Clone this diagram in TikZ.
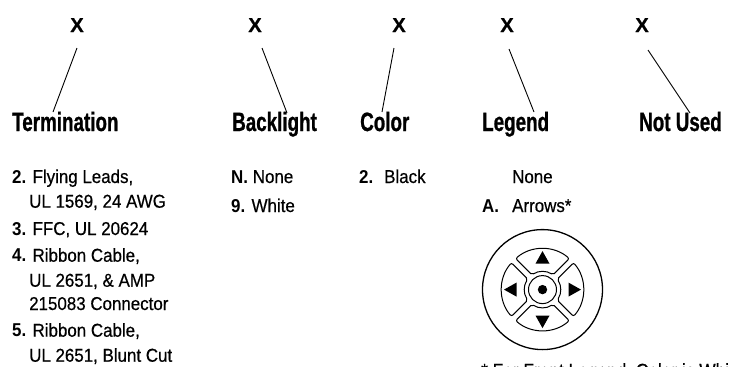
\documentclass[tikz,border=0pt]{standalone}
\usepackage{fontspec}
\setmainfont{Liberation Sans}[FakeStretch=0.91, UprightFeatures={FakeBold=0.5}]
\newfontfamily\hdrfont{Liberation Sans}[FakeStretch=0.71, BoldFeatures={FakeBold=0.8}]
\newfontfamily\markfont{Liberation Sans}[BoldFeatures={FakeBold=0.6}]
\begin{document}
\begin{tikzpicture}[x=1pt,y=1pt,
  bigx/.style={font=\markfont\bfseries\fontsize{20}{22}\selectfont, inner sep=0pt, anchor=base},
  hdr/.style={font=\hdrfont\bfseries\fontsize{26.5}{28}\selectfont, inner sep=0pt, anchor=base west},
  body/.style={font=\fontsize{18.6}{22}\selectfont, inner sep=0pt, anchor=base west},
  foot/.style={font=\fontsize{19}{21}\selectfont, inner sep=0pt, anchor=base west},
  lead/.style={line width=0.9pt},
  btn/.style={line width=1pt, rounded corners=2pt},
]
\useasboundingbox[fill=white] (0,0) rectangle (729,-367);

% X marks
\node[bigx] (x1) at (77,-32) {X};
\node[bigx] (x2) at (255,-32) {X};
\node[bigx] (x3) at (399,-32) {X};
\node[bigx] (x4) at (507,-32) {X};
\node[bigx] (x5) at (642,-32) {X};

% headers
\node[hdr] (h1) at (12,-131) {Termination};
\node[hdr] (h2) at (232,-131) {Backlight};
\node[hdr] (h3) at (360,-131) {Color};
\node[hdr] (h4) at (482,-131) {Legend};
\node[hdr] (h5) at (639,-131) {Not Used};

% leader lines
\coordinate (a1) at (77,-48);  \coordinate (b1) at (53,-112);
\coordinate (a2) at (262,-48); \coordinate (b2) at (287,-113);
\coordinate (a3) at (394,-48); \coordinate (b3) at (382,-112);
\coordinate (a4) at (509,-49); \coordinate (b4) at (534,-112);
\coordinate (a5) at (648,-50); \coordinate (b5) at (690,-113);
\draw[lead] (a1) -- (b1);
\draw[lead] (a2) -- (b2);
\draw[lead] (a3) -- (b3);
\draw[lead] (a4) -- (b4);
\draw[lead] (a5) -- (b5);

% Termination options
\node[body] (t1) at (12,-183) {\textbf{2.} Flying Leads,};
\node[body] (t2) at (29,-207.7) {UL 1569, 24 AWG};
\node[body] (t3) at (12,-235) {\textbf{3.} FFC, UL 20624};
\node[body] (t4) at (12,-261.7) {\textbf{4.} Ribbon Cable,};
\node[body] (t5) at (29,-286.7) {UL 2651, \& AMP};
\node[body] (t6) at (29,-310) {215083 Connector};
\node[body] (t7) at (12,-336.7) {\textbf{5.} Ribbon Cable,};
\node[body] (t8) at (29,-361.7) {UL 2651, Blunt Cut};

% Backlight options
\node[body] (bl1) at (231,-183) {\textbf{N.} None};
\node[body] (bl2) at (231,-212) {\textbf{9.} White};

% Color options
\node[body] (c1) at (359,-183) {\textbf{2.}};
\node[body] (c2) at (384,-183) {Black};

% Legend options
\node[body] (l1) at (512,-183) {None};
\node[body] (l2) at (482,-212) {\textbf{A.}};
\node[body] (l3) at (512,-212) {Arrows*};

% joystick icon
\begin{scope}[shift={(542.5,-289.6)}]
  \draw[line width=1.3pt] (0,0) circle[radius=60pt];
  \draw[line width=1pt] (0,0) circle[radius=14pt];
  \fill (0,0) circle[radius=4.7pt];
  \foreach \r in {0,90,180,270} {
    \begin{scope}[rotate=\r]
      \draw[btn] (49.2:41) arc[start angle=49.2,end angle=130.8,radius=41pt]
        -- (125.4:18) arc[start angle=125.4,end angle=54.6,radius=18pt] -- cycle;
      \fill (0,38.5) -- (-7,26) -- (7,26) -- cycle;
    \end{scope}
  }
\end{scope}

% footnote (cut by the lower edge, as in the reference)
\node[foot] (fn) at (481,-377) {* For Front Legend, Color is White};
\end{tikzpicture}
\end{document}
